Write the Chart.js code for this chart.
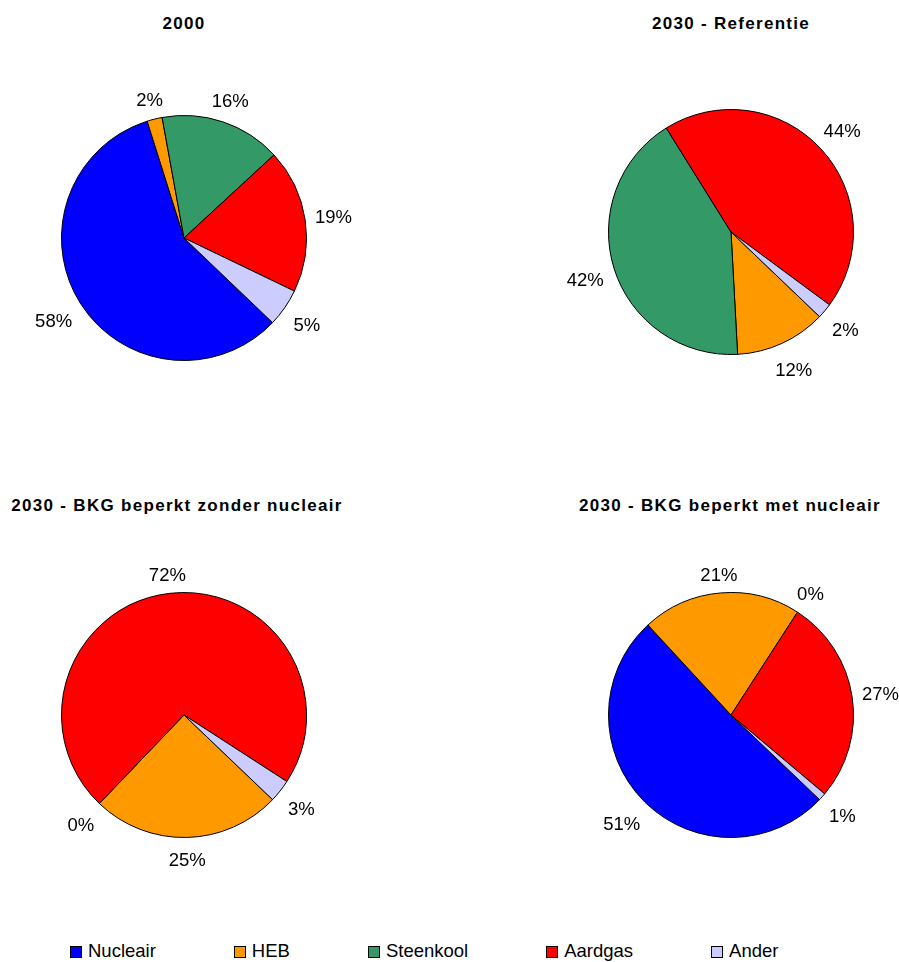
<!DOCTYPE html>
<html>
<head>
<meta charset="utf-8">
<script src="https://cdn.jsdelivr.net/npm/chart.js@4.4.1/dist/chart.umd.min.js"></script>
<style>
  html, body { margin: 0; padding: 0; background: #fff; overflow: hidden; }
  #page { position: relative; width: 899px; height: 962px; overflow: hidden;
          font-family: "Liberation Sans", Arial, Helvetica, sans-serif; color: #000; }
  .title { position: absolute; font-weight: bold; font-size: 17px; line-height: 17px;
           letter-spacing: 1.3px; white-space: nowrap; transform: translateX(-50%); }
  .pie { position: absolute; }
  #legend { position: absolute; left: 70px; top: 941px; display: flex; gap: 78px;
            font-size: 18.5px; line-height: 20px; white-space: nowrap; }
  .item { display: flex; align-items: center; }
  .swatch { width: 10px; height: 10px; border: 1px solid #000; margin-right: 6px; margin-top: 1px; }
</style>
</head>
<body>
<div id="page"></div>
<script>
// Energy sources (series order used by every pie)
const categories = ['Nucleair', 'HEB', 'Steenkool', 'Aardgas', 'Ander'];
const colors = ['#0000FF', '#FF9900', '#339966', '#FF0000', '#CCCCFF'];

// Share of each source, in percent (null = no value in that scenario)
const share2000         = [58, 2, 16, 19, 5];
const shareReferentie   = [null, 12, 42, 44, 2];
const shareZonderNuc    = [null, 25, 0, 72, 3];
const shareMetNuc       = [51, 21, 0, 27, 1];

const titles = ['2000', '2030 - Referentie', '2030 - BKG beperkt zonder nucleair', '2030 - BKG beperkt met nucleair'];
const seriesList = [share2000, shareReferentie, shareZonderNuc, shareMetNuc];

// Layout of the 2x2 grid: pie centres and title placement
const pieCenters = [[184, 238], [730.5, 232], [184, 715], [731, 715]];
const titlePos = [[184, 15], [731, 15], [177, 497], [730, 497]];
const PIE_RADIUS = 122.5;
const FIRST_ANGLE = 133.7;
const CANVAS_W = 360, CANVAS_H = 340;
const LABEL_FONT = '18.5px "Liberation Sans", Arial, sans-serif';

// Percentage labels drawn just outside each slice
const sliceLabels = {
  id: 'sliceLabels',
  afterDatasetsDraw(chart) {
    const ctx = chart.ctx;
    const meta = chart.getDatasetMeta(0);
    const data = chart.data.datasets[0].data;
    const total = data.reduce((s, v) => s + (v || 0), 0);
    ctx.save();
    ctx.font = LABEL_FONT;
    ctx.fillStyle = '#000';
    ctx.textAlign = 'center';
    ctx.textBaseline = 'middle';
    meta.data.forEach((arc, i) => {
      const v = data[i];
      if (v === null || v === undefined) return;
      const p = arc.getProps(['x', 'y', 'startAngle', 'endAngle', 'outerRadius'], true);
      const mid = (p.startAngle + p.endAngle) / 2;
      const text = Math.round(v / total * 100) + '%';
      const w = ctx.measureText(text).width;
      const c = Math.cos(mid), s = Math.sin(mid);
      // labels below the centre sit a little further out
      const halfH = s > 0 ? 12 : 9;
      const d = 9 + Math.abs(c) * w / 2 + Math.abs(s) * halfH;
      const lx = p.x + c * (p.outerRadius + d);
      const ly = p.y + s * (p.outerRadius + d) + 2.5;
      ctx.fillText(text, lx, ly);
    });
    ctx.restore();
  }
};

const page = document.getElementById('page');

seriesList.forEach((values, k) => {
  const t = document.createElement('div');
  t.className = 'title';
  t.textContent = titles[k];
  t.style.left = titlePos[k][0] + 'px';
  t.style.top = titlePos[k][1] + 'px';
  page.appendChild(t);

  const cv = document.createElement('canvas');
  cv.className = 'pie';
  cv.width = CANVAS_W;
  cv.height = CANVAS_H;
  cv.style.width = CANVAS_W + 'px';
  cv.style.height = CANVAS_H + 'px';
  cv.style.left = (pieCenters[k][0] - CANVAS_W / 2) + 'px';
  cv.style.top = (pieCenters[k][1] - CANVAS_H / 2) + 'px';
  page.appendChild(cv);

  new Chart(cv, {
    type: 'pie',
    data: {
      labels: categories,
      datasets: [{
        data: values,
        backgroundColor: colors,
        borderColor: '#000',
        borderWidth: 1
      }]
    },
    options: {
      responsive: false,
      animation: false,
      devicePixelRatio: 1,
      radius: PIE_RADIUS,
      rotation: FIRST_ANGLE,
      layout: { padding: 0 },
      plugins: { legend: { display: false }, tooltip: { enabled: false }, title: { display: false } },
      events: []
    },
    plugins: [sliceLabels]
  });
});

// Legend row
const legend = document.createElement('div');
legend.id = 'legend';
categories.forEach((name, i) => {
  const item = document.createElement('div');
  item.className = 'item';
  const sw = document.createElement('span');
  sw.className = 'swatch';
  sw.style.background = colors[i];
  const lbl = document.createElement('span');
  lbl.textContent = name;
  item.appendChild(sw);
  item.appendChild(lbl);
  legend.appendChild(item);
});
page.appendChild(legend);
</script>
</body>
</html>
